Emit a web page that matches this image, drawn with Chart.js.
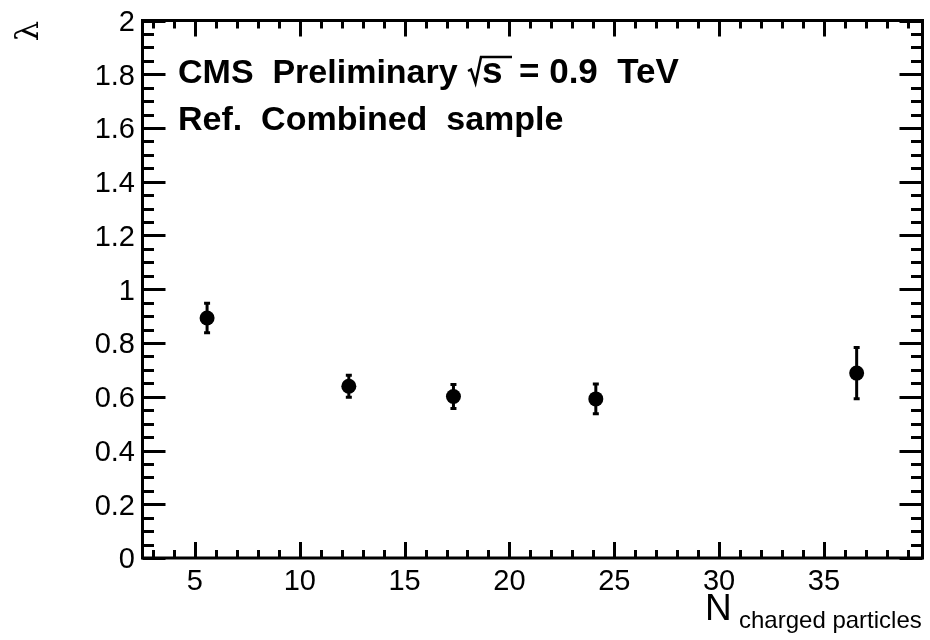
<!DOCTYPE html>
<html>
<head>
<meta charset="utf-8">
<script src="https://cdn.jsdelivr.net/npm/chart.js@4"></script>
<style>
  html, body { margin: 0; padding: 0; background: #ffffff; }
  #chart { display: block; }
</style>
</head>
<body>
<canvas id="chart" width="930" height="640"></canvas>
<script>
// Données
const multiplicity = [5.58, 12.34, 17.33, 24.12, 36.56];
const lambdaValues = [0.893, 0.639, 0.601, 0.592, 0.688];
const lambdaErrors = [0.055, 0.041, 0.045, 0.055, 0.095];

const xMajorTicks = [5, 10, 15, 20, 25, 30, 35];
const xTickLabels = ['5', '10', '15', '20', '25', '30', '35'];
const yMajorTicks = [0, 0.2, 0.4, 0.6, 0.8, 1, 1.2, 1.4, 1.6, 1.8, 2];
const yTickLabels = ['0', '0.2', '0.4', '0.6', '0.8', '1', '1.2', '1.4', '1.6', '1.8', '2'];

const FONT = '"Liberation Sans", Arial, Helvetica, sans-serif';

// Cadre + graduations vers l'intérieur (style ROOT)
const framePlugin = {
  id: 'frame',
  afterDraw(chart) {
    const { ctx, chartArea: a, scales } = chart;
    const xs = scales.x, ys = scales.y;
    ctx.save();
    ctx.strokeStyle = '#000';
    ctx.lineWidth = 3;
    ctx.lineCap = 'butt';

    // graduations en x
    ctx.beginPath();
    for (let v = Math.ceil(xs.min); v <= xs.max; v++) {
      const len = xMajorTicks.includes(v) ? 16 : 8;
      const px = Math.round(xs.getPixelForValue(v)) + 0.5;
      ctx.moveTo(px, a.bottom); ctx.lineTo(px, a.bottom - len);
      ctx.moveTo(px, a.top); ctx.lineTo(px, a.top + len);
    }
    // graduations en y
    for (let i = 0; i <= 40; i++) {
      const v = i * 0.05;
      const len = i % 4 === 0 ? 23 : 11.5;
      const py = Math.round(ys.getPixelForValue(v)) + 0.5;
      ctx.moveTo(a.left, py); ctx.lineTo(a.left + len, py);
      ctx.moveTo(a.right, py); ctx.lineTo(a.right - len, py);
    }
    ctx.stroke();

    ctx.strokeRect(a.left, a.top, a.right - a.left, a.bottom - a.top);

    // étiquettes
    ctx.fillStyle = '#000';
    ctx.font = '29px ' + FONT;
    ctx.textAlign = 'center';
    ctx.textBaseline = 'alphabetic';
    xMajorTicks.forEach((v, i) => {
      ctx.fillText(xTickLabels[i], xs.getPixelForValue(v), 590);
    });
    ctx.textAlign = 'right';
    yMajorTicks.forEach((v, i) => {
      ctx.fillText(yTickLabels[i], 135, ys.getPixelForValue(v) + 10.4);
    });

    // titre de l'axe x
    ctx.textAlign = 'left';
    ctx.font = '37px ' + FONT;
    ctx.fillText('N', 705, 620);
    ctx.font = '24px ' + FONT;
    ctx.fillText('charged particles', 739, 628);

    // titre de l'axe y (lambda tourné)
    ctx.save();
    ctx.translate(38, 31);
    ctx.rotate(-Math.PI / 2);
    ctx.font = '32px "DejaVu Serif", "Liberation Serif", serif';
    ctx.textAlign = 'center';
    ctx.textBaseline = 'alphabetic';
    ctx.fillText('λ', 0, 0);
    ctx.restore();

    // texte CMS
    ctx.font = 'bold 34px ' + FONT;
    ctx.textAlign = 'left';
    ctx.fillText('CMS  Preliminary', 178, 83);
    ctx.beginPath();
    ctx.lineWidth = 2.5;
    ctx.moveTo(468, 71);
    ctx.lineTo(471, 69.5);
    ctx.lineTo(475.5, 83);
    ctx.lineTo(481, 57);
    ctx.lineTo(512, 57);
    ctx.stroke();
    ctx.font = 'bold 37px ' + FONT;
    ctx.fillText('s', 482, 83);
    ctx.font = 'bold 35px ' + FONT;
    ctx.fillText('= 0.9  TeV', 519, 83);
    ctx.font = 'bold 34px ' + FONT;
    ctx.fillText('Ref.  Combined  sample', 178, 130);

    ctx.restore();
  }
};

// Barres d'erreur
const errorBarPlugin = {
  id: 'errorBars',
  beforeDatasetsDraw(chart) {
    const { ctx, scales } = chart;
    ctx.save();
    ctx.strokeStyle = '#000';
    ctx.lineWidth = 3;
    multiplicity.forEach((x, i) => {
      const px = scales.x.getPixelForValue(x);
      const top = scales.y.getPixelForValue(lambdaValues[i] + lambdaErrors[i]);
      const bot = scales.y.getPixelForValue(lambdaValues[i] - lambdaErrors[i]);
      ctx.beginPath();
      ctx.moveTo(px, top); ctx.lineTo(px, bot);
      ctx.moveTo(px - 3, top); ctx.lineTo(px + 3, top);
      ctx.moveTo(px - 3, bot); ctx.lineTo(px + 3, bot);
      ctx.stroke();
    });
    ctx.restore();
  }
};

new Chart(document.getElementById('chart'), {
  type: 'scatter',
  data: {
    datasets: [{
      data: multiplicity.map((x, i) => ({ x: x, y: lambdaValues[i] })),
      backgroundColor: '#000',
      borderColor: '#000',
      pointRadius: 7.5,
      pointHoverRadius: 7.5,
      borderWidth: 0,
      clip: false
    }]
  },
  options: {
    responsive: false,
    animation: false,
    devicePixelRatio: 1,
    layout: { padding: { left: 142.5, right: 7, top: 20.5, bottom: 82 } },
    scales: {
      x: { type: 'linear', min: 2.5, max: 39.7, display: false },
      y: { type: 'linear', min: 0, max: 2, display: false }
    },
    plugins: {
      legend: { display: false },
      tooltip: { enabled: false }
    }
  },
  plugins: [errorBarPlugin, framePlugin]
});
</script>
</body>
</html>
